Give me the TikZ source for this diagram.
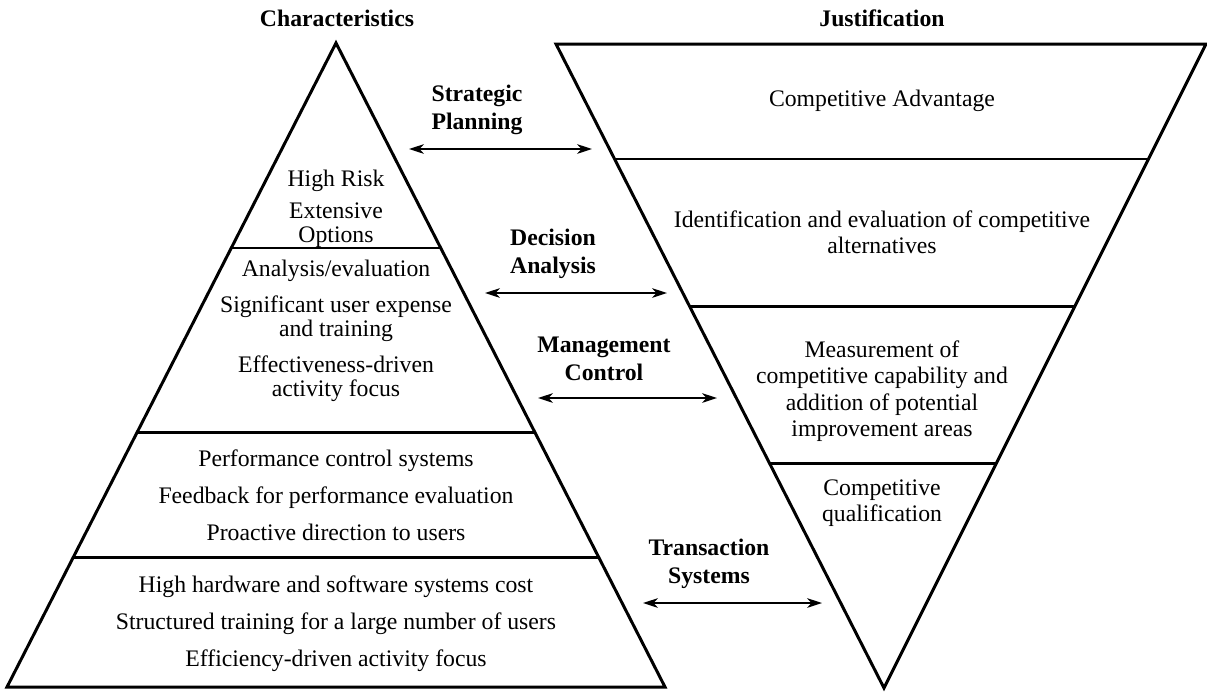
\documentclass[tikz,border=0pt]{standalone}
\usepackage{fontspec}
\setmainfont{Liberation Serif}
\usepackage{tikz}
\usetikzlibrary{calc}
\usetikzlibrary{arrows.meta}
\tikzset{>={Stealth[length=8.5pt,width=5.5pt,inset=2.5pt]}}
\tikzset{
	tri/.style={line width=1.7pt},
	txt/.style={font=\fontsize{13.5}{15}\selectfont,align=center,inner sep=0pt},
	ltxt/.style={font=\fontsize{13.5}{13.5}\selectfont,align=center,inner sep=0pt},
	hd/.style={font=\fontsize{13.5}{15.9}\selectfont\bfseries,align=center,inner sep=0pt},
	link/.style={<->,line width=0.9pt}
}

\begin{document}
\begin{tikzpicture}[x=0.02cm,y=-0.02cm]
	\useasboundingbox (0,0) rectangle (1207,691);
	% pyramid of characteristics
	\coordinate (ltop) at (336,43);
	\coordinate (lbl) at (7,687);
	\coordinate (lbr) at (665,687);
	\draw[tri] (ltop) -- (lbr) -- (lbl) -- cycle;
	\foreach \h in {248,432,557}
		\draw[tri] ($(ltop)!{(\h-43)/644}!(lbl)$) -- ($(ltop)!{(\h-43)/644}!(lbr)$);
	% inverted pyramid of justification
	\coordinate (rtl) at (556,44);
	\coordinate (rtr) at (1206,44);
	\coordinate (rbot) at (884,688);
	\draw[tri] (rtl) -- (rtr) -- (rbot) -- cycle;
	\foreach \h in {159,306,463}
		\draw[tri] ($(rtl)!{(\h-44)/644}!(rbot)$) -- ($(rtr)!{(\h-44)/644}!(rbot)$);

	\node[hd] (chr) at (337,18) {Characteristics};
	\node[hd] (jus) at (882,18) {Justification};

	\node[ltxt] (risk) at (336,181) {High Risk};
	\node[ltxt] (opts) at (336,225) {Extensive\\Options};
	\node[ltxt] (anl) at (336,271) {Analysis/evaluation};
	\node[ltxt] (exp) at (336,319) {Significant user expense\\and training};
	\node[ltxt] (eff) at (336,379) {Effectiveness-driven\\activity focus};
	\node[ltxt] (perf) at (336,461) {Performance control systems};
	\node[ltxt] (feed) at (336,498) {Feedback for performance evaluation};
	\node[ltxt] (pro) at (336,532) {Proactive direction to users};
	\node[ltxt] (cost) at (336,587) {High hardware and software systems cost};
	\node[ltxt] (trn) at (336,624) {Structured training for a large number of users};
	\node[ltxt] (effc) at (336,661) {Efficiency-driven activity focus};

	\node[txt] (adv) at (882,101) {Competitive Advantage};
	\node[txt] (idn) at (882,232) {Identification and evaluation of competitive\\alternatives};
	\node[txt] (msr) at (882,391) {Measurement of\\competitive capability and\\addition of potential\\improvement areas};
	\node[txt] (qual) at (882,503) {Competitive\\qualification};

	\node[hd] (sp) at (477,110) {Strategic\\Planning};
	\coordinate (sp-l) at (409,149);
	\coordinate (sp-r) at (592,149);
	\draw[link] (sp-l) -- (sp-r);
	\node[hd] (da) at (553,254) {Decision\\Analysis};
	\coordinate (da-l) at (485,293);
	\coordinate (da-r) at (667,293);
	\draw[link] (da-l) -- (da-r);
	\node[hd] (mc) at (604,359) {Management\\Control};
	\coordinate (mc-l) at (538,398);
	\coordinate (mc-r) at (717,398);
	\draw[link] (mc-l) -- (mc-r);
	\node[hd] (ts) at (709,564) {Transaction\\Systems};
	\coordinate (ts-l) at (643,603);
	\coordinate (ts-r) at (822,603);
	\draw[link] (ts-l) -- (ts-r);
\end{tikzpicture}
\end{document}
